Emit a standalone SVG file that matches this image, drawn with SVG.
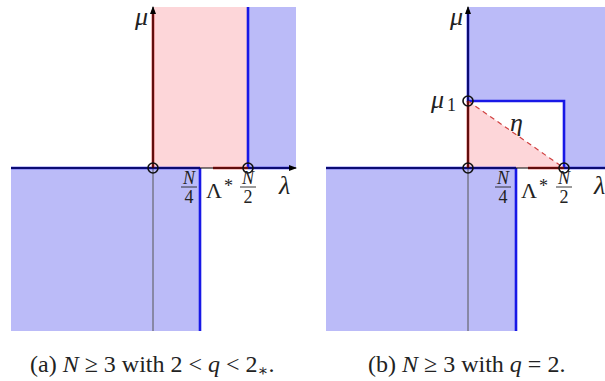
<svg xmlns="http://www.w3.org/2000/svg" width="605" height="381" viewBox="0 0 605 381">
<style>
.bf{fill:#bbbbf8;stroke:none}
.pf{fill:#fdd6d9;stroke:none}
.bl{stroke:#1818e6;stroke-width:2.6;fill:none}
.rl{stroke:#c41c1c;stroke-width:2.6;fill:none}
.ax{stroke:#000;stroke-width:1;fill:none}
.gl{stroke:#555;stroke-width:1;fill:none}
.cr{stroke:#111;stroke-width:1.6;fill:none}
.t{font-family:"Liberation Serif","DejaVu Serif",serif;fill:#222}
.i{font-style:italic}
.m{font-size:26px}
.L{font-size:22px}
.s{font-size:18px}
.c{font-size:24px}
</style>
<defs>
<marker id="ah" markerWidth="8" markerHeight="6" refX="7" refY="3" orient="auto" markerUnits="userSpaceOnUse">
<path d="M0,0 L8,3 L0,6 Z" fill="#000"/>
</marker>
</defs>

<g id="panel-a">
<g id="a-regions">
<rect class="pf" x="153" y="7" width="95" height="161"/>
<rect class="bf" x="248" y="7" width="48" height="161"/>
<rect class="bf" x="11" y="168" width="189" height="163"/>
</g>
<g id="a-lines">
<line class="gl" x1="153" y1="168" x2="153" y2="331"/>
<line class="bl" x1="11" y1="168" x2="200" y2="168"/>
<line class="bl" x1="200" y1="168" x2="200" y2="331"/>
<line class="bl" x1="248" y1="7" x2="248" y2="168"/>
<line class="bl" x1="248" y1="168" x2="292" y2="168"/>
<line class="rl" x1="213" y1="168" x2="248" y2="168"/>
<line class="rl" x1="153" y1="10" x2="153" y2="168"/>
<line class="ax" x1="11" y1="168" x2="296" y2="168" marker-end="url(#ah)"/>
<line class="ax" x1="153" y1="168" x2="153" y2="7" marker-end="url(#ah)"/>
</g>
<g id="a-points">
<circle class="cr" cx="153" cy="168" r="5"/>
<circle class="cr" cx="248" cy="168" r="5"/>
</g>
<g id="a-labels">
<text class="t i m" x="135" y="25">μ</text>
<text class="t i s" x="189" y="184" text-anchor="middle">N</text>
<line x1="181" y1="187" x2="197" y2="187" stroke="#222" stroke-width="0.9"/>
<text class="t s" x="189" y="203" text-anchor="middle">4</text>
<text class="t L" x="206" y="198">Λ</text>
<text class="t s" x="224" y="192">*</text>
<text class="t i s" x="248" y="184" text-anchor="middle">N</text>
<line x1="240" y1="187" x2="256" y2="187" stroke="#222" stroke-width="0.9"/>
<text class="t s" x="248" y="203" text-anchor="middle">2</text>
<text class="t i m" x="279" y="194">λ</text>
<text class="t c" x="30" y="372">(a) <tspan class="i">N</tspan> ≥ 3 with 2 &lt; <tspan class="i">q</tspan> &lt; 2<tspan font-size="16" dy="4">∗</tspan><tspan dy="-4">.</tspan></text>
</g>
</g>

<g id="panel-b">
<g id="b-regions">
<path class="bf" d="M468,7 H605 V168 H564 V101 H468 Z"/>
<path class="pf" d="M468,101 L468,168 L564,168 Z"/>
<rect class="bf" x="326" y="168" width="190" height="163"/>
</g>
<g id="b-lines">
<line class="gl" x1="468" y1="168" x2="468" y2="331"/>
<line class="bl" x1="326" y1="168" x2="516" y2="168"/>
<line class="bl" x1="516" y1="168" x2="516" y2="331"/>
<polyline class="bl" points="468,10 468,101 564,101 564,168"/>
<line class="bl" x1="564" y1="168" x2="605" y2="168"/>
<line class="rl" x1="528" y1="168" x2="564" y2="168"/>
<line class="rl" x1="468" y1="101" x2="468" y2="168"/>
<line x1="468" y1="101" x2="564" y2="168" stroke="#d04040" stroke-width="1.2" stroke-dasharray="5,4"/>
<line class="ax" x1="326" y1="168" x2="612" y2="168" marker-end="url(#ah)"/>
<line class="ax" x1="468" y1="168" x2="468" y2="7" marker-end="url(#ah)"/>
</g>
<g id="b-points">
<circle class="cr" cx="468" cy="101" r="5"/>
<circle class="cr" cx="468" cy="168" r="5"/>
<circle class="cr" cx="564" cy="168" r="5"/>
</g>
<g id="b-labels">
<text class="t i m" x="450" y="25">μ</text>
<text class="t i m" x="431" y="108">μ</text>
<text class="t s" x="447" y="111">1</text>
<text class="t i m" x="510" y="131">η</text>
<text class="t i s" x="503" y="184" text-anchor="middle">N</text>
<line x1="495" y1="187" x2="511" y2="187" stroke="#222" stroke-width="0.9"/>
<text class="t s" x="503" y="203" text-anchor="middle">4</text>
<text class="t L" x="521" y="198">Λ</text>
<text class="t s" x="539" y="192">*</text>
<text class="t i s" x="564" y="184" text-anchor="middle">N</text>
<line x1="556" y1="187" x2="572" y2="187" stroke="#222" stroke-width="0.9"/>
<text class="t s" x="564" y="203" text-anchor="middle">2</text>
<text class="t i m" x="594" y="194">λ</text>
<text class="t c" x="368" y="372">(b) <tspan class="i">N</tspan> ≥ 3 with <tspan class="i">q</tspan> = 2.</text>
</g>
</g>
</svg>
